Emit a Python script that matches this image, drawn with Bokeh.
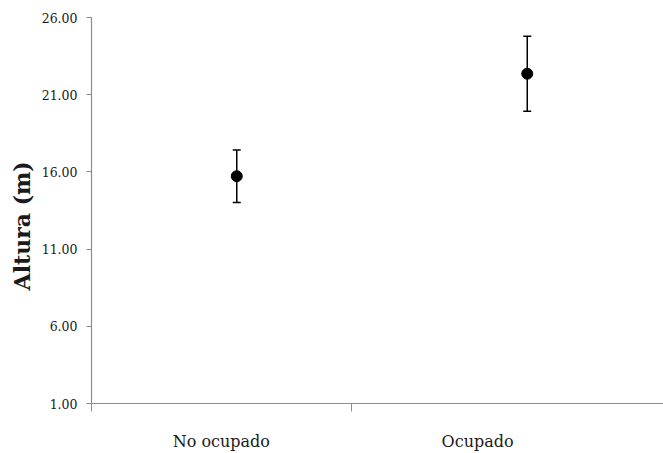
from bokeh.plotting import figure
from bokeh.models import Range1d, FixedTicker, Whisker, TeeHead, ColumnDataSource, PrintfTickFormatter
from bokeh.embed import file_html
from bokeh.resources import INLINE

# Data
categories = ["No ocupado", "Ocupado"]
means = [15.72, 22.36]
errors = [1.70, 2.43]
y_ticks = [1, 6, 11, 16, 21, 26]
y_title = "Altura (m)"

# category positions on the numeric x axis (layout)
point_x = [0.5, 1.5]
label_x = [0.447, 1.329]
divider_x = [0.0, 0.895]

src = ColumnDataSource(dict(
    x=point_x, y=means,
    upper=[m + e for m, e in zip(means, errors)],
    lower=[m - e for m, e in zip(means, errors)],
))

p = figure(width=663, height=453, output_backend="svg", toolbar_location=None,
           x_range=Range1d(0, 1.969), y_range=Range1d(1, 26),
           min_border_left=91, min_border_right=0, min_border_top=17, min_border_bottom=42)
p.outline_line_color = None
p.grid.visible = False
p.background_fill_color = "white"
p.border_fill_color = "white"

axis_col = "#8c8c8c"
txt_col = "#1a1a1a"

# y axis
ya = p.yaxis[0]
ya.ticker = FixedTicker(ticks=y_ticks, minor_ticks=[])
ya.formatter = PrintfTickFormatter(format="%.2f")
ya.axis_line_color = axis_col
ya.axis_line_width = 1.2
ya.major_tick_line_color = axis_col
ya.major_tick_in = 0
ya.major_tick_out = 5
ya.minor_tick_line_color = None
ya.major_label_text_font = "DejaVu Serif"
ya.major_label_text_font_size = "12.5px"
ya.major_label_text_color = txt_col
ya.major_label_standoff = 9
# trailing no-break spaces nudge the title slightly below the frame centre, as in the original
ya.axis_label = y_title + "\u00a0" * 4
ya.axis_label_text_font = "DejaVu Serif"
ya.axis_label_text_font_style = "bold"
ya.axis_label_text_font_size = "22px"
ya.axis_label_text_color = txt_col
ya.axis_label_standoff = 4

# x axis
xa = p.xaxis[0]
xa.ticker = FixedTicker(ticks=label_x, minor_ticks=divider_x)
xa.major_label_overrides = {lx: c for lx, c in zip(label_x, categories)}
xa.axis_line_color = axis_col
xa.axis_line_width = 1.2
xa.major_tick_line_color = None
xa.major_tick_in = 0
xa.major_tick_out = 0
xa.minor_tick_line_color = axis_col
xa.minor_tick_in = 0
xa.minor_tick_out = 8
xa.major_label_text_font = "DejaVu Serif"
xa.major_label_text_font_size = "16px"
xa.major_label_text_color = txt_col
xa.major_label_standoff = 20

w = Whisker(source=src, base="x", upper="upper", lower="lower",
            line_color="black", line_width=1.5,
            upper_head=TeeHead(size=8, line_color="black", line_width=1.5),
            lower_head=TeeHead(size=8, line_color="black", line_width=1.5))
p.add_layout(w)

p.scatter("x", "y", source=src, size=11, color="black")

open("out.html", "w").write(file_html(p, INLINE))
